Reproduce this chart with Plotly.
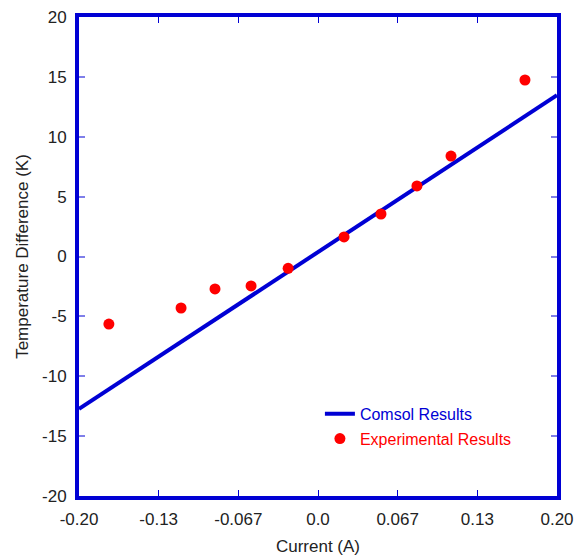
import plotly.graph_objects as go

# Data
comsol_x = [-0.2, 0.2]
comsol_y = [-12.73, 13.47]

exp_x = [-0.175, -0.1146, -0.0862, -0.056, -0.025, 0.0218, 0.0527, 0.0828, 0.1113, 0.1732]
exp_y = [-5.64, -4.30, -2.71, -2.46, -0.99, 1.63, 3.55, 5.89, 8.39, 14.74]

x_tickvals = [-0.2, -0.13333, -0.06667, 0.0, 0.06667, 0.13333, 0.2]
x_ticktext = ["-0.20", "-0.13", "-0.067", "0.0", "0.067", "0.13", "0.20"]
y_tickvals = [-20, -15, -10, -5, 0, 5, 10, 15, 20]
y_ticktext = ["-20", "-15", "-10", "-5", "0", "5", "10", "15", "20"]

BLUE = "#0000D4"
RED = "#FF0000"
FONT = "Liberation Sans, Arial, sans-serif"

fig = go.Figure()
fig.add_trace(go.Scatter(
    x=comsol_x, y=comsol_y, mode="lines",
    line=dict(color=BLUE, width=4),
    name="<span style='color:#0000D4'>Comsol Results</span>",
    legendgroup="a",
))
fig.add_trace(go.Scatter(
    x=exp_x, y=exp_y, mode="markers",
    marker=dict(color=RED, size=11),
    name="<span style='color:#FF0000'>Experimental Results</span>",
    legendgroup="b",
))

axis_common = dict(
    showline=True, linecolor=BLUE, linewidth=4, mirror="ticks",
    ticks="inside", ticklen=6, showgrid=False, zeroline=False,
    automargin=False,
    tickfont=dict(family=FONT, size=17, color="#222222"),
)

fig.update_layout(
    width=585, height=558,
    margin=dict(l=79, r=28, t=17, b=62),
    paper_bgcolor="white", plot_bgcolor="white",
    font=dict(family=FONT, size=17, color="#222222"),
    showlegend=True,
    legend=dict(
        x=0.504, y=0.207, xanchor="left", yanchor="top",
        bgcolor="rgba(0,0,0,0)", font=dict(family=FONT, size=16),
        traceorder="grouped", tracegroupgap=1,
    ),
    xaxis=dict(
        range=[-0.2, 0.2], tickvals=x_tickvals, ticktext=x_ticktext,
        tickcolor=BLUE, tickwidth=1, ticklabelstandoff=5,
        title=dict(text="Current (A)", font=dict(family=FONT, size=17), standoff=13),
        **axis_common,
    ),
    yaxis=dict(
        range=[-20, 20], tickvals=y_tickvals, ticktext=y_ticktext,
        tickcolor="rgba(0,0,212,0.5)", tickwidth=2, ticklabelstandoff=5,
        title=dict(text="Temperature Difference (K)", font=dict(family=FONT, size=17), standoff=10),
        **axis_common,
    ),
)

fig.write_html("out.html")
